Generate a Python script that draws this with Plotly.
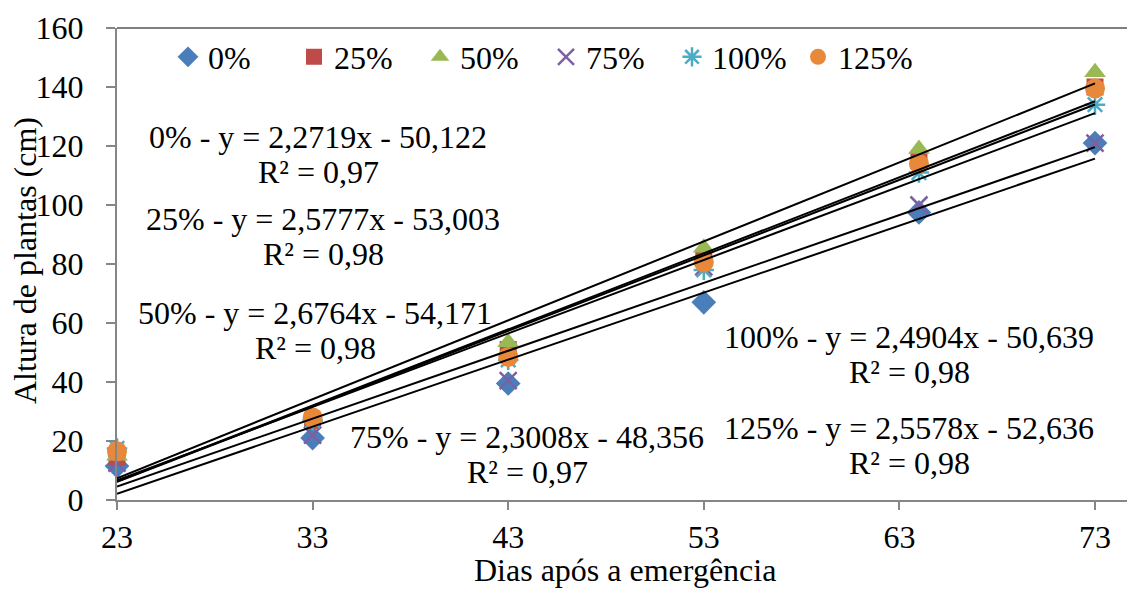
import plotly.graph_objects as go

# Days after emergence at which plant height was measured
dias = [23, 33, 43, 53, 64, 73]

# Plant height (cm) per treatment
tratamentos = ["0%", "25%", "50%", "75%", "100%", "125%"]
altura_0 = [11.5, 21.0, 39.5, 67.0, 97.5, 121.0]
altura_25 = [14.5, 27.0, 51.0, 82.0, 115.0, 140.0]
altura_50 = [15.0, 28.0, 53.5, 85.5, 119.0, 145.0]
altura_75 = [12.5, 22.0, 40.5, 79.0, 100.0, 121.0]
altura_100 = [17.5, 27.0, 47.5, 78.0, 111.0, 134.0]
altura_125 = [16.5, 28.0, 48.5, 80.5, 114.0, 139.5]

# Linear fit coefficients (y = a*x + b) and R² per treatment
coef_a = [2.2719, 2.5777, 2.6764, 2.3008, 2.4904, 2.5578]
coef_b = [-50.122, -53.003, -54.171, -48.356, -50.639, -52.636]
r2 = ["0,97", "0,98", "0,98", "0,97", "0,98", "0,98"]

alturas = [altura_0, altura_25, altura_50, altura_75, altura_100, altura_125]

titulo_x = "Dias após a emergência"
titulo_y = "Altura de plantas (cm)"

# Plot area in pixels
W, H = 1127, 590
L, R, T, B = 117, 0, 28, 90
PW, PH = W - L - R, H - T - B

FONT = "Liberation Serif"
FS = 32


def px_x(p):
    return (p - L) / PW


def px_y(p):
    return (H - B - p) / PH


estilos = [
    dict(symbol="diamond", size=19, color="#4A7EBB"),
    dict(symbol="square", size=17, color="#BE4B48"),
    dict(symbol="triangle-up", size=19, color="#98B954"),
    dict(symbol="x-thin-open", size=17, color="#7D60A0", line=dict(width=2.5, color="#7D60A0")),
    dict(symbol="asterisk-open", size=17, color="#4BACC6", line=dict(width=2.5, color="#4BACC6")),
    dict(symbol="circle", size=20, color="#E8883A"),
]

fig = go.Figure()

for nome, y, est in zip(tratamentos, alturas, estilos):
    fig.add_trace(go.Scatter(
        x=dias, y=y, mode="markers", name=nome,
        marker=est, showlegend=True, cliponaxis=False,
    ))

# Trend lines drawn over the markers
for a, b in zip(coef_a, coef_b):
    xs = [dias[0], dias[-1]]
    fig.add_trace(go.Scatter(
        x=xs, y=[a * v + b for v in xs], mode="lines", cliponaxis=False,
        line=dict(color="black", width=2), showlegend=False, hoverinfo="skip",
    ))


def fmt(v):
    return f"{abs(v):.4f}".replace(".", ",") if abs(v) < 10 else f"{abs(v):.3f}".replace(".", ",")


def fonte():
    return dict(family=FONT, size=FS, color="black")


# Equation label centres in pixels (x, y of first line)
pos_eq = [(318, 137), (323, 219), (315, 313), (527, 437), (909, 337), (909, 428)]
for nome, a, b, r, (px, py) in zip(tratamentos, coef_a, coef_b, r2, pos_eq):
    linha1 = f"{nome} - y = {fmt(a)}x - {fmt(b)}"
    linha2 = f"R² = {r}"
    for txt, yy in ((linha1, py), (linha2, py + 35)):
        fig.add_annotation(
            x=px_x(px), y=px_y(yy), xref="paper", yref="paper",
            text=txt, showarrow=False, xanchor="center", yanchor="middle",
            font=fonte(),
        )

# Axis titles
fig.add_annotation(x=px_x(625), y=px_y(570), xref="paper", yref="paper",
                   text=titulo_x, showarrow=False, xanchor="center", yanchor="middle",
                   font=fonte())
fig.add_annotation(x=px_x(25), y=px_y(261), xref="paper", yref="paper",
                   text=titulo_y, showarrow=False, xanchor="center", yanchor="middle",
                   textangle=-90, font=fonte())

# Top border of the plot area
fig.add_shape(type="line", xref="paper", yref="paper", x0=0, x1=1, y0=1, y1=1,
              line=dict(color="#555555", width=1.5))

fig.update_layout(
    template="none",
    width=W, height=H,
    margin=dict(l=L, r=R, t=T, b=B),
    paper_bgcolor="white", plot_bgcolor="white",
    font=fonte(),
    legend=dict(
        orientation="h", x=px_x(168), y=px_y(57),
        xanchor="left", yanchor="middle", bgcolor="rgba(0,0,0,0)",
        font=fonte(), itemwidth=30,
        entrywidth=81, entrywidthmode="pixels",
    ),
    xaxis=dict(
        range=[23, 23 + PW / 19.56], tickmode="array", tickvals=[23, 33, 43, 53, 63, 73],
        showgrid=False, zeroline=False, showline=True, linecolor="#868686", linewidth=2,
        ticks="outside", ticklen=8, tickwidth=2, tickcolor="#868686",
        tickfont=fonte(),
    ),
    yaxis=dict(
        range=[0, 160], tickmode="linear", tick0=0, dtick=20,
        showgrid=False, zeroline=False, showline=True, linecolor="#868686", linewidth=2,
        ticks="outside", ticklen=9, tickwidth=2, tickcolor="#868686",
        tickfont=fonte(), ticklabelstandoff=16,
    ),
)

fig.write_html("out.html")
